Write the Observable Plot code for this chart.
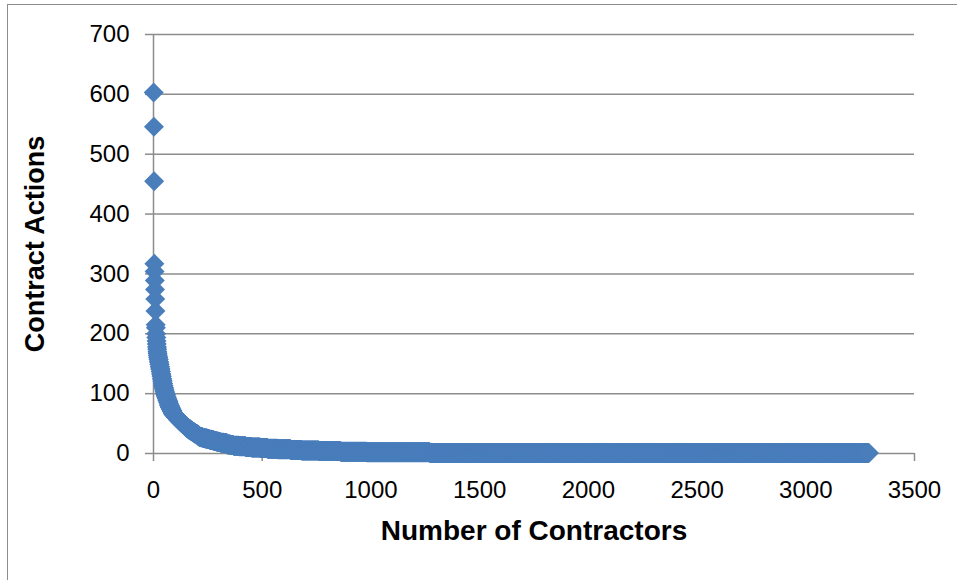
<!DOCTYPE html>
<html><head><meta charset="utf-8">
<script src="https://cdn.jsdelivr.net/npm/d3@7"></script>
<script src="https://cdn.jsdelivr.net/npm/@observablehq/plot@0.6"></script>
<style>
body{margin:0;background:#fff;}
#wrap{position:relative;width:957px;height:580px;overflow:hidden;}
#border{position:absolute;left:7px;top:4px;width:2000px;height:2000px;border-top:1.5px solid #8c8c8c;border-left:1.5px solid #8c8c8c;pointer-events:none;}
#wrap svg{position:absolute;left:0;top:0;}
</style></head><body><div id="wrap"><div id="border"></div></div>
<script>
// Contract actions per contractor, as a frequency table (actions level -> number of contractors at that level), ranked high to low
const actionLevels = [
  603,546,455,317,304,289,274,258,238,215,210,
  200,194,188,183,178,174,170,167,164,
  161,157,153,149,145,
  141,137,133,129,125,
  121,117,113,110,107,
  104,101,98,95,
  92,89,86,83,
  80,77,74,71,68,
  66,64,62,60,57,55,
  53,51,49,47,45,42,40,
  38,36,34,32,30,28,
  27,26,25,
  24,23,22,21,20,19,
  18,17,15,14,
  13,12,11,
  10,9,
  8,7,6,5,4,3,2,1
];
const contractorCounts = [
  1,1,1,1,1,1,1,1,1,1,1,
  1,1,1,1,1,1,1,1,1,
  2,2,2,2,2,
  2,2,2,2,2,
  2,2,2,2,2,
  2,2,3,3,
  3,3,3,2,
  4,4,4,4,3,
  5,5,5,6,6,5,
  6,6,6,6,7,8,9,
  8,8,8,8,7,7,
  10,10,11,
  10,10,10,10,10,11,
  15,15,15,15,
  25,30,27,
  40,34,
  46,60,50,80,100,120,290,2020
];
const yTicks = [0,100,200,300,400,500,600,700];
const xTicks = [0,500,1000,1500,2000,2500,3000,3500];
const xTitle = "Number of Contractors";
const yTitle = "Contract Actions";

const points = [];
let rank = 0;
actionLevels.forEach((a, i) => {
  for (let k = 0; k < contractorCounts[i]; k++) { rank++; points.push({rank, actions: a}); }
});

const grid = "#8c8c8c";
const chart = Plot.plot({
  width: 957, height: 580,
  marginLeft: 153, marginRight: 43, marginTop: 34, marginBottom: 127,
  style: {fontFamily: "'Liberation Sans', Arial, sans-serif", fontSize: "24px", color: "#000", background: "transparent", overflow: "visible"},
  x: {domain: [0, 3500]},
  y: {domain: [0, 700]},
  marks: [
    Plot.ruleY(yTicks, {stroke: grid, strokeWidth: 1.5}),
    Plot.ruleX([0], {stroke: grid, strokeWidth: 1.5}),
    Plot.axisY({ticks: yTicks, tickSize: 8, tickPadding: 16, label: null, stroke: grid, strokeWidth: 1.5, tickFormat: d => String(d), fontSize: 24}),
    Plot.axisX({ticks: xTicks, tickSize: 8, tickPadding: 19, label: null, stroke: grid, strokeWidth: 1.5, tickFormat: d => String(d), fontSize: 24}),
    Plot.dot(points, {x: "rank", y: "actions", symbol: "diamond2", r: 9, fill: "#4a7ebb", stroke: "none"}),
    Plot.text([xTitle], {frameAnchor: "bottom", dy: 86, fontWeight: "bold", fontSize: 28, fill: "#000"}),
    Plot.text([yTitle], {frameAnchor: "left", textAnchor: "middle", dx: -118, rotate: -90, fontWeight: "bold", fontSize: 27, fill: "#000"})
  ]
});
document.getElementById("wrap").appendChild(chart);
</script>
</body></html>
